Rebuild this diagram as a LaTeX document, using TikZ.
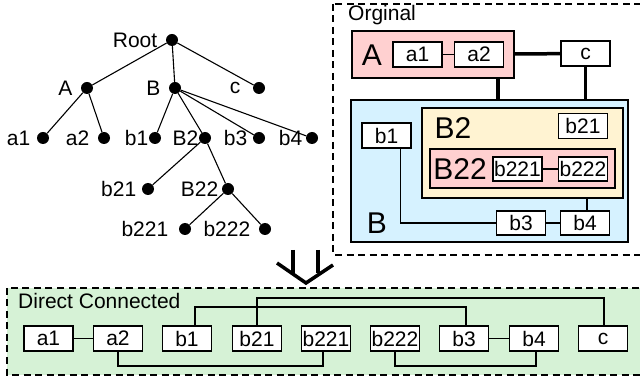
\documentclass[tikz,border=0pt]{standalone}
\usepackage{fontspec}
\setmainfont{Liberation Sans}
\usepackage{tikz}
\usetikzlibrary{positioning, calc}
\definecolor{grppink}{RGB}{255,208,208}
\definecolor{grpblue}{RGB}{214,242,255}
\definecolor{grpyellow}{RGB}{255,243,210}
\definecolor{flatgreen}{RGB}{214,242,214}

\begin{document}
\begin{tikzpicture}[
  x=1pt, y=-1pt,
  every node/.style={font=\fontsize{21}{23}\selectfont},
  treedot/.style={circle, fill=black, inner sep=0pt, minimum size=12pt},
  item/.style={rectangle, draw, line width=1.5pt, fill=white, minimum width=49pt, minimum height=25pt, inner sep=1pt},
  grp/.style={rectangle, draw, line width=1.5pt, inner sep=0pt},
  bigtxt/.style={font=\fontsize{30}{32}\selectfont, inner sep=0pt},
  ttl/.style={anchor=west, inner sep=0pt},
  dashbox/.style={draw, line width=1.6pt, dash pattern=on 7pt off 4.5pt},
  edge/.style={line width=1.1pt},
  link/.style={line width=1.5pt},
  heavy/.style={line width=3.5pt}
]
\useasboundingbox (0,0) rectangle (640,379);
\clip (0,0) rectangle (640,379);

% Tree (left top)
\node[treedot, label={[xshift=-5pt]left:Root}] (root) at (172,40) {};
\node[treedot, label={[xshift=-5pt]left:A}]    (ta)   at (87,88) {};
\node[treedot, label={[xshift=-5pt]left:B}]    (tb)   at (175,88) {};
\node[treedot, label={[xshift=-9pt]left:c}]    (tc)   at (259,88) {};
\node[treedot, label={[xshift=-3pt]left:a1}]   (ta1)  at (43,138) {};
\node[treedot, label={[xshift=-5pt]left:a2}]   (ta2)  at (104,138) {};
\node[treedot, label={[xshift=3pt]left:b1}]    (tb1)  at (155,138) {};
\node[treedot, label={[xshift=3pt]left:B2}]    (tb2)  at (205,138) {};
\node[treedot, label={[xshift=-2pt]left:b3}]   (tb3)  at (259,138) {};
\node[treedot, label=left:b4]                  (tb4)  at (312,138) {};
\node[treedot, label={[xshift=-2pt]left:b21}]  (tb21) at (148,189) {};
\node[treedot, label=left:B22]                 (tb22) at (228,189) {};
\node[treedot, label={[xshift=-7pt]left:b221}] (tb221) at (185,229) {};
\node[treedot, label={[xshift=-5pt]left:b222}] (tb222) at (265,229) {};

\foreach \p/\c in {root/ta, root/tb, root/tc, ta/ta1, ta/ta2, tb/tb1, tb/tb2, tb/tb3, tb/tb4,
                   tb2/tb21, tb2/tb22, tb22/tb221, tb22/tb222}
  \draw[edge] (\p) -- (\c);

% Orginal (right top)
\draw[dashbox] (333,4) rectangle (650,255);
\node[ttl] (orgtitle) at (348,15) {Orginal};

\node[grp, fill=grppink, minimum width=162pt, minimum height=47pt] (abox) at (433,54.5) {};
\node[bigtxt] (alab) at (372,55) {A};
\node[item] (a1) at (417.5,54.5) {a1};
\node[item] (a2) at (479,54.5) {a2};
\node[item] (c)  at (585.5,53.5) {c};

\node[grp, fill=grpblue, minimum width=277pt, minimum height=142pt] (bbox) at (489.5,171) {};
\node[bigtxt] (blab) at (377,223) {B};
\node[item] (b1) at (386.5,135.5) {b1};

\node[grp, fill=grpyellow, minimum width=201pt, minimum height=90pt] (btwobox) at (522.5,153) {};
\node[bigtxt] (btwolab) at (453,128) {B2};
\node[item] (b21) at (583,126) {b21};

\node[grp, fill=grppink, minimum width=185pt, minimum height=39pt] (btwotwobox) at (522.5,168.5) {};
\node[bigtxt] (btwotwolab) at (460,169) {B22};
\node[item, minimum height=24pt] (b221) at (517.5,169) {b221};
\node[item, minimum height=24pt] (b222) at (583,169) {b222};

\node[item, minimum height=24pt] (b3) at (521,223) {b3};
\node[item, minimum height=24pt] (b4) at (585,223) {b4};

\draw[heavy] (abox) -- (c);
\draw[heavy] ([xshift=65pt]abox.south) -- ([xshift=65pt]abox.south |- bbox.north);
\draw[heavy] (c) -- (c |- bbox.north);
\draw[link] (a1) -- (a2);
\draw[link] (b221) -- (b222);
\draw[link] ([xshift=14pt]b1.south) |- (b3.west);
\draw[link] (b3) -- (b4);
\draw[link] ([xshift=2pt]b4.north) -- ([xshift=2pt]b4.north |- btwobox.south);

% big down arrow
\coordinate (tip) at (306,283);
\draw[heavy] ($(tip)+(-29,-20)$) -- (tip) -- ($(tip)+(27,-18)$);
\draw[heavy] ($(tip)+(-13,-33)$) -- ++(0,23);
\draw[heavy] ($(tip)+(12,-33)$) -- ++(0,23);

% Direct Connected (bottom)
\draw[dashbox, fill=flatgreen] (7,288) rectangle (650,375);
\node[ttl] (dctitle) at (18,301) {Direct Connected};

\foreach \n/\t/\x in {da1/a1/48.5, da2/a2/118, db1/b1/187, db21/b21/257, db221/b221/326,
                      db222/b222/395, db3/b3/464, db4/b4/534, dc/c/603}
  \node[item] (\n) at (\x,338.5) {\t};

\draw[link] (da1) -- (da2);
\draw[link] (db3) -- (db4);
\draw[link] (da2.south) -- ++(0,14) -| ([xshift=-3pt]db221.south);
\draw[link] (db222.south) -- ++(0,14) -| ([xshift=2pt]db4.south);
\draw[link] ([xshift=8pt]db1.north) -- ++(0,-18) -| ([xshift=2pt]db3.north);
\draw[link] (db21.north) -- ++(0,-27) -| ([xshift=1pt]dc.north);
\end{tikzpicture}
\end{document}
